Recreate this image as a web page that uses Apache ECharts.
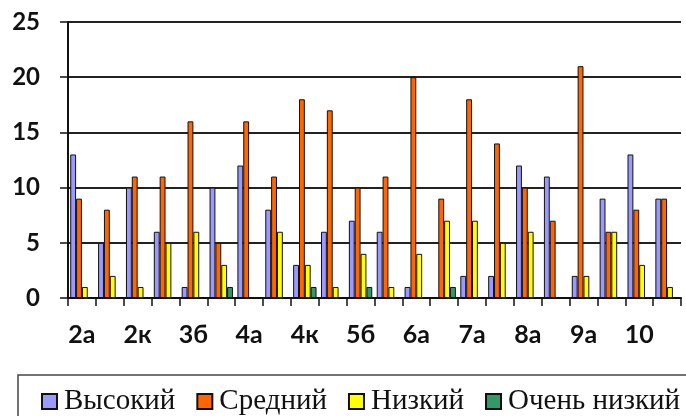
<!DOCTYPE html>
<html>
<head>
    <meta charset="utf-8">
    <title>Уровни по классам</title>
    <script src="https://cdn.jsdelivr.net/npm/echarts@6/dist/echarts.min.js"></script>
    <style>
        html, body { margin: 0; padding: 0; background: #fff; }
        #main { width: 686px; height: 416px; }
    </style>
</head>
<body>
<div id="main"></div>
<script>
    // классы (подписи показаны через одну)
    var classes = ['2а', '2б', '2к', '3а', '3б', '3к', '4а', '4б', '4к', '5а', '5б',
                   '5к', '6а', '6б', '7а', '7б', '8а', '8б', '9а', '9б', '10', '11'];
    var high     = [13, 5, 10, 6, 1, 10, 12, 8, 3, 6, 7, 6, 1, 0, 2, 2, 12, 11, 2, 9, 13, 9];
    var medium   = [9, 8, 11, 11, 16, 5, 16, 11, 18, 17, 10, 11, 20, 9, 18, 14, 10, 7, 21, 6, 8, 9];
    var low      = [1, 2, 1, 5, 6, 3, 0, 6, 3, 1, 4, 1, 4, 7, 7, 5, 6, 0, 2, 6, 3, 1];
    var veryLow  = [0, 0, 0, 0, 0, 1, 0, 0, 1, 0, 1, 0, 0, 1, 0, 0, 0, 0, 0, 0, 0, 0];
    var yTicks   = [0, 5, 10, 15, 20, 25];

    var names  = ['Высокий', 'Средний', 'Низкий', 'Очень низкий'];
    var colors = ['#9999ff', '#ff6600', '#ffff00', '#339966'];
    var values = [high, medium, low, veryLow];

    var chart = echarts.init(document.getElementById('main'));

    var series = names.map(function (n, i) {
        return {
            name: n,
            type: 'bar',
            data: values[i],
            barGap: '0%',
            barCategoryGap: '16%',
            itemStyle: {color: colors[i], borderColor: '#111', borderWidth: 1},
            emphasis: {disabled: true}
        };
    });

    chart.setOption({
        animation: false,
        grid: {left: 68, right: 5, top: 22, bottom: 118},
        xAxis: {
            type: 'category',
            data: classes,
            axisLine: {lineStyle: {color: '#111', width: 2}},
            axisTick: {show: true, interval: 0, length: 8, lineStyle: {color: '#111', width: 1.5}},
            axisLabel: {
                interval: 1, margin: 24,
                fontFamily: 'Lato', fontWeight: 'bold', fontSize: 25, color: '#111'
            }
        },
        yAxis: {
            type: 'value',
            min: yTicks[0],
            max: yTicks[yTicks.length - 1],
            interval: 5,
            axisLine: {show: true, lineStyle: {color: '#111', width: 2}},
            axisTick: {show: true, length: 8, lineStyle: {color: '#111', width: 1.5}},
            axisLabel: {
                margin: 28,
                fontFamily: 'Lato', fontWeight: 'bold', fontSize: 24, color: '#111'
            },
            splitLine: {lineStyle: {color: '#222', width: 2}}
        },
        legend: {
            data: names,
            left: 36,
            top: 382,
            itemWidth: 15,
            itemHeight: 15,
            itemGap: 21,
            icon: 'rect',
            itemStyle: {borderColor: '#111', borderWidth: 2},
            textStyle: {fontFamily: 'Liberation Serif', fontSize: 29, color: '#111', padding: [0, 0, 0, 2]}
        },
        graphic: [{
            type: 'rect',
            shape: {x: 18, y: 375, width: 700, height: 60},
            style: {fill: 'none', stroke: '#444', lineWidth: 1.5},
            silent: true
        }],
        series: series
    });
</script>
</body>
</html>
